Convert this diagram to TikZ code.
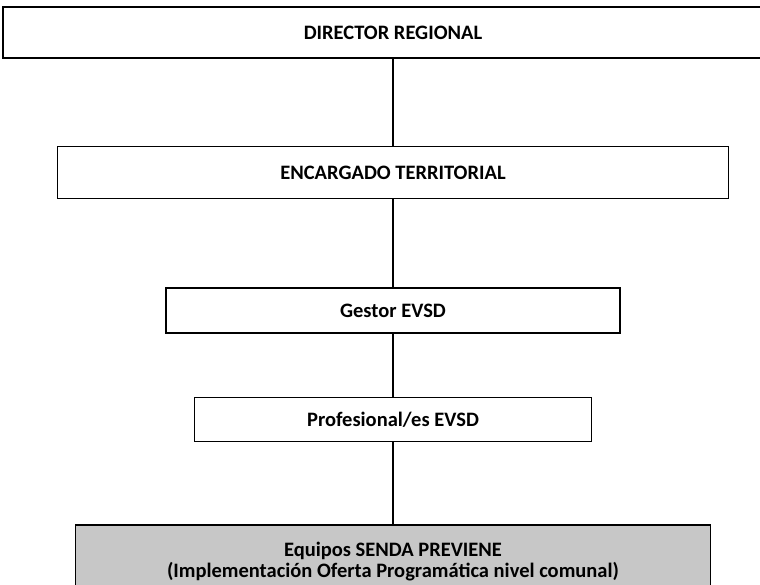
\documentclass[tikz,border=0pt]{standalone}
\usepackage{fontspec}
\setmainfont{Carlito}
\usepackage{tikz}
\usetikzlibrary{positioning}

\begin{document}
\begin{tikzpicture}[
		x=1pt, y=1pt,
		node distance=87pt,
		box/.style={rectangle, draw, line width=1.5pt, minimum width=#1, minimum height=51pt, inner sep=0pt, align=center, font=\bfseries\fontsize{20.5}{21}\selectfont},
		link/.style={draw, line width=1.5pt}
		]
		\clip (0,0) rectangle (760,-584);
		
		% Top level
		\node[box=780pt] (dir) at (393,-32.5) {DIRECTOR REGIONAL};
		
		% Middle levels, one below the other
		\node[box=671pt, minimum height=52pt, below=87pt of dir] (enc) {ENCARGADO TERRITORIAL};
		\node[box=454pt, minimum height=45pt, below=88pt of enc] (gestor) {Gestor EVSD};
		\node[box=397pt, minimum height=44pt, below=63pt of gestor] (prof) {Profesional/es EVSD};
		
		% Bottom level: local teams
		\node[box=635pt, minimum height=74pt, fill=black!22, below=82pt of prof] (equipos) {%
			Equipos SENDA PREVIENE \\
			(Implementación Oferta Programática nivel comunal)
		};
		
		% Connectors
		\draw[link] (dir) -- (enc);
		\draw[link] (enc) -- (gestor);
		\draw[link] (gestor) -- (prof);
		\draw[link] (prof) -- (equipos);
		
	\end{tikzpicture}
\end{document}
